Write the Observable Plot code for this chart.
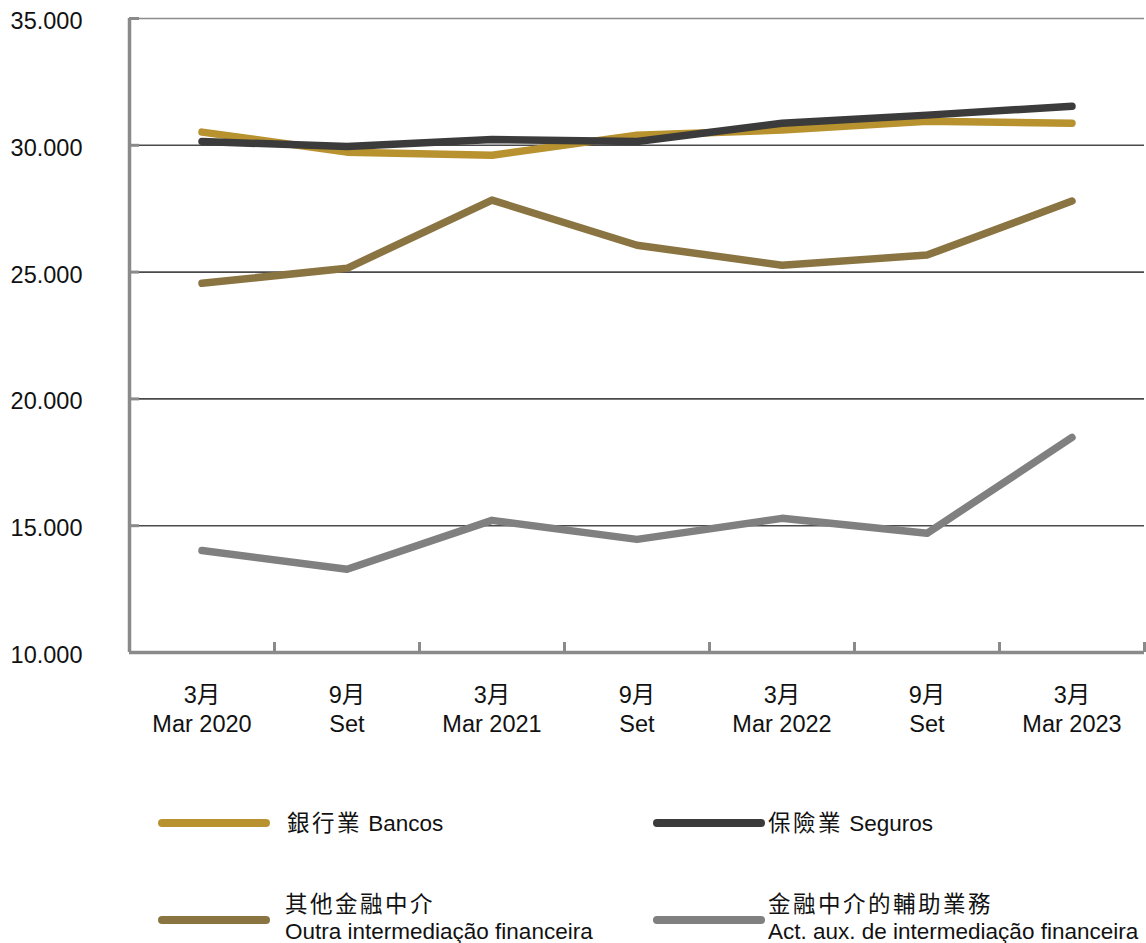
<!DOCTYPE html>
<html>
<head>
<meta charset="utf-8">
<script src="https://cdn.jsdelivr.net/npm/d3@7"></script>
<script src="https://cdn.jsdelivr.net/npm/@observablehq/plot@0.6"></script>
<style>
  html, body { margin: 0; padding: 0; background: #fff; }
  #wrap { position: relative; width: 1146px; height: 943px; overflow: hidden;
          font-family: "Liberation Sans", "Noto Sans CJK TC", sans-serif; color: #111; }
  #chart svg { display: block; }
  .sw { position: absolute; height: 8px; border-radius: 4px; }
  .lt { position: absolute; font-size: 22.5px; line-height: 27px; white-space: nowrap; }
  .cjk { font-family: "Noto Sans CJK TC", sans-serif; letter-spacing: 2.5px; }
</style>
</head>
<body>
<div id="wrap">
  <div id="chart"></div>
  <div id="legend"></div>
</div>
<script>
// ---- data ----
const periods = ["3月\nMar 2020", "9月\nSet", "3月\nMar 2021", "9月\nSet", "3月\nMar 2022", "9月\nSet", "3月\nMar 2023"];
const seriesNames = ["Bancos", "Seguros", "Outra", "Act"];
const seriesZh = ["銀行業", "保險業", "其他金融中介", "金融中介的輔助業務"];
const seriesPt = ["Bancos", "Seguros", "Outra intermediação financeira", "Act. aux. de intermediação financeira"];
const seriesColors = ["#b8922e", "#3b3b3b", "#8a7442", "#808080"];
const bancos  = [30520, 29730, 29610, 30400, 30600, 30950, 30870];
const seguros = [30150, 29950, 30230, 30150, 30870, 31190, 31540];
const outra   = [24560, 25150, 27840, 26060, 25270, 25670, 27800];
const actAux  = [14020, 13280, 15210, 14460, 15290, 14700, 18480];
const yTicks = [10000, 15000, 20000, 25000, 30000, 35000];

const values = [bancos, seguros, outra, actAux];
// draw order: Act, Outra, Bancos, Seguros (Seguros on top)
const drawOrder = [3, 2, 0, 1];
const data = drawOrder.flatMap(s => values[s].map((v, i) => ({i, v, name: seriesNames[s]})));
const idx = periods.map((_, i) => i);
const bounds = periods.map((_, i) => i + 0.5);
const fmt = d => d3.format(",")(d).replace(/,/g, ".");

const axisGray = "#8a8a8a";

const chart = Plot.plot({
  width: 1146,
  height: 760,
  marginLeft: 129,
  marginRight: 2,
  marginTop: 18,
  marginBottom: 108,
  x: {domain: [-0.5, periods.length - 0.5], label: null},
  y: {domain: [10000, 35000], label: null},
  color: {domain: seriesNames, range: seriesColors},
  style: {fontFamily: "'Liberation Sans', 'Noto Sans CJK TC', sans-serif", fontSize: "23.5px", color: "#111", background: "#fff"},
  marks: [
    Plot.ruleY([15000, 20000, 25000, 30000], {stroke: "#4a4a4a", strokeWidth: 1.6}),
    Plot.ruleY([35000], {stroke: "#8c8c8c", strokeWidth: 1.6}),
    Plot.lineY(data, {x: "i", y: "v", z: "name", stroke: "name", strokeWidth: 7.5,
      strokeLinecap: "round", strokeLinejoin: "round"}),
    Plot.ruleX([-0.5], {stroke: axisGray, strokeWidth: 3.5}),
    Plot.ruleY([10000], {stroke: axisGray, strokeWidth: 3.5}),
    Plot.axisY({ticks: yTicks.slice(1), tickSize: -10, tickFormat: () => "", stroke: axisGray, strokeWidth: 3, label: null}),
    Plot.axisY({ticks: yTicks, tickSize: 0, tickPadding: 47, tickFormat: fmt, dy: 3, fontSize: 23.5, fill: "#111", label: null}),
    Plot.axisX({ticks: bounds, tickSize: -10, tickFormat: () => "", stroke: axisGray, strokeWidth: 3, label: null}),
    Plot.axisX({ticks: idx, tickSize: 0, tickPadding: 30, tickFormat: i => periods[i], lineHeight: 1.22, fontSize: 23.5, fill: "#111", label: null})
  ]
});
document.getElementById("chart").append(chart);

// ---- legend ----
const legendPos = [
  {sx: 158, sy: 819, tx: 287, ty: 808},
  {sx: 653, sy: 819, tx: 768, ty: 808},
  {sx: 158, sy: 916, tx: 285, ty: 889},
  {sx: 653, sy: 916, tx: 768, ty: 889}
];
const legend = document.getElementById("legend");
const legendOrder = [0, 1, 2, 3];
legendOrder.forEach((s, k) => {
  const p = legendPos[k];
  const sw = document.createElement("div");
  sw.className = "sw";
  sw.style.left = p.sx + "px";
  sw.style.top = p.sy + "px";
  sw.style.width = "112px";
  sw.style.background = seriesColors[s];
  legend.append(sw);
  const t = document.createElement("div");
  t.className = "lt";
  t.style.left = p.tx + "px";
  t.style.top = p.ty + "px";
  const zh = document.createElement("span");
  zh.className = "cjk";
  zh.textContent = seriesZh[s];
  t.append(zh);
  if (k < 2) {
    t.append(document.createTextNode(" " + seriesPt[s]));
  } else {
    t.append(document.createElement("br"));
    t.append(document.createTextNode(seriesPt[s]));
  }
  legend.append(t);
});
</script>
</body>
</html>
